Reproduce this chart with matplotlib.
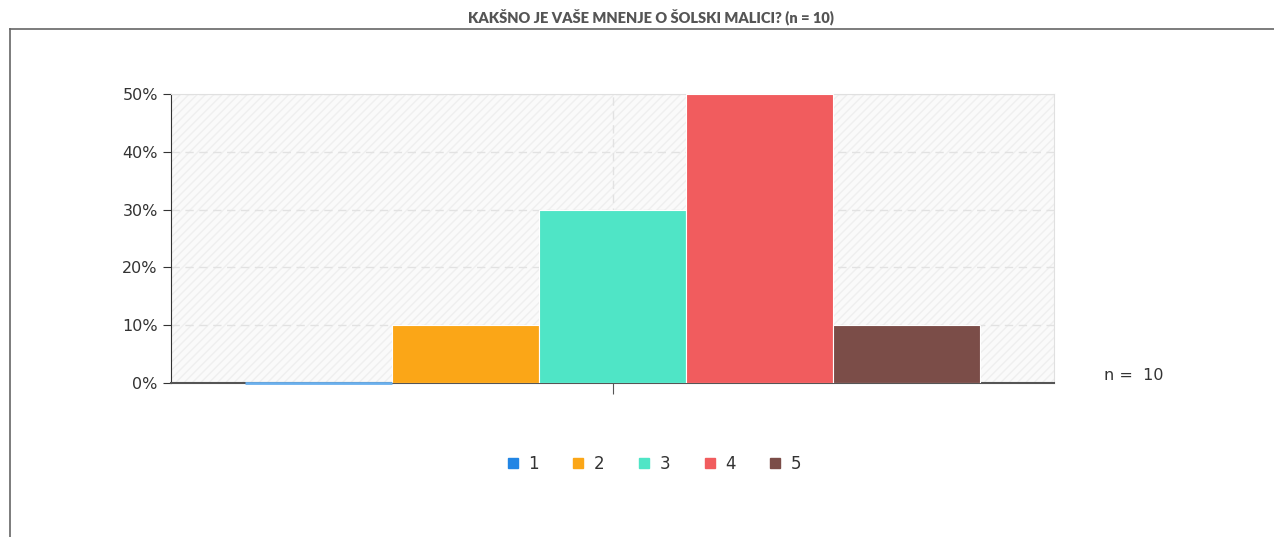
import matplotlib.pyplot as plt
from matplotlib.patches import Rectangle
from matplotlib.lines import Line2D

# data
categories = ['1', '2', '3', '4', '5']
values = [0, 10, 30, 50, 10]          # odstotki
colors = ['#2185e4', '#fba617', '#4fe5c6', '#f15c5e', '#7b4d48']
n_resp = 10
title = 'KAKŠNO JE VAŠE MNENJE O ŠOLSKI MALICI? (n = 10)'
yticks = [0, 10, 20, 30, 40, 50]

fig = plt.figure(figsize=(12.74, 5.37), dpi=100)

# okvir okoli grafa
fig.add_artist(Line2D([10/1274, 10/1274], [0, 1 - 29/537], color='#666666', lw=1.2))
fig.add_artist(Line2D([10/1274, 1], [1 - 29/537, 1 - 29/537], color='#666666', lw=1.2))

fig.text(651/1274, 1 - 18/537, title, ha='center', va='center', fontsize=10.5,
         fontweight='heavy', color='#555555', family='Lato')

ax = fig.add_axes([171/1274, 1 - 383/537, (1054 - 171)/1274, (383 - 94)/537])

# ozadje s črtkanjem
ax.add_patch(Rectangle((0, 0), 1, 1, transform=ax.transAxes, facecolor='#fafafa',
                       edgecolor='#efefef', hatch='////', lw=0, zorder=0))

x = [-2, -1, 0, 1, 2]
for xi, v, c in zip(x, values, colors):
    if v == 0:
        ax.plot([xi - 0.5, xi + 0.5], [0, 0], color='#6ab0ee', lw=2, zorder=5,
                clip_on=False, solid_capstyle='butt')
    else:
        ax.bar(xi, v, width=1.0, color=c, edgecolor='white', lw=0.8, zorder=3)

ax.set_xlim(-3, 3)
ax.set_ylim(0, 50)
ax.set_yticks(yticks)
ax.set_yticklabels([f'{t}%' for t in yticks])
ax.set_xticks([0])
ax.set_xticklabels([''])
ax.grid(True, color='#e2e2e2', ls=(0, (6, 4)), lw=1, zorder=1)
ax.set_axisbelow(True)

for s in ['top', 'right']:
    ax.spines[s].set_color('#e0e0e0')
ax.spines['left'].set_color('#333333')
ax.spines['bottom'].set_color('#555555')
ax.spines['bottom'].set_linewidth(1.5)
ax.tick_params(axis='y', length=6, color='#333333', labelsize=11.5, labelcolor='#333333')
ax.tick_params(axis='x', length=8, color='#555555')

ax.text(1104/1274, 1 - 375/537, f'n =  {n_resp}', transform=fig.transFigure,
        fontsize=11.5, color='#333333', va='center', ha='left')

handles = [Line2D([], [], marker='s', ls='', color=c, markersize=7) for c in colors]
fig.legend(handles, categories, loc='center', bbox_to_anchor=(652/1274, 1 - 464/537),
           ncol=5, frameon=False, fontsize=12, handletextpad=0.35, columnspacing=1.75,
           handlelength=1.2, labelcolor='#333333')

fig.savefig('out.png', dpi=100)
